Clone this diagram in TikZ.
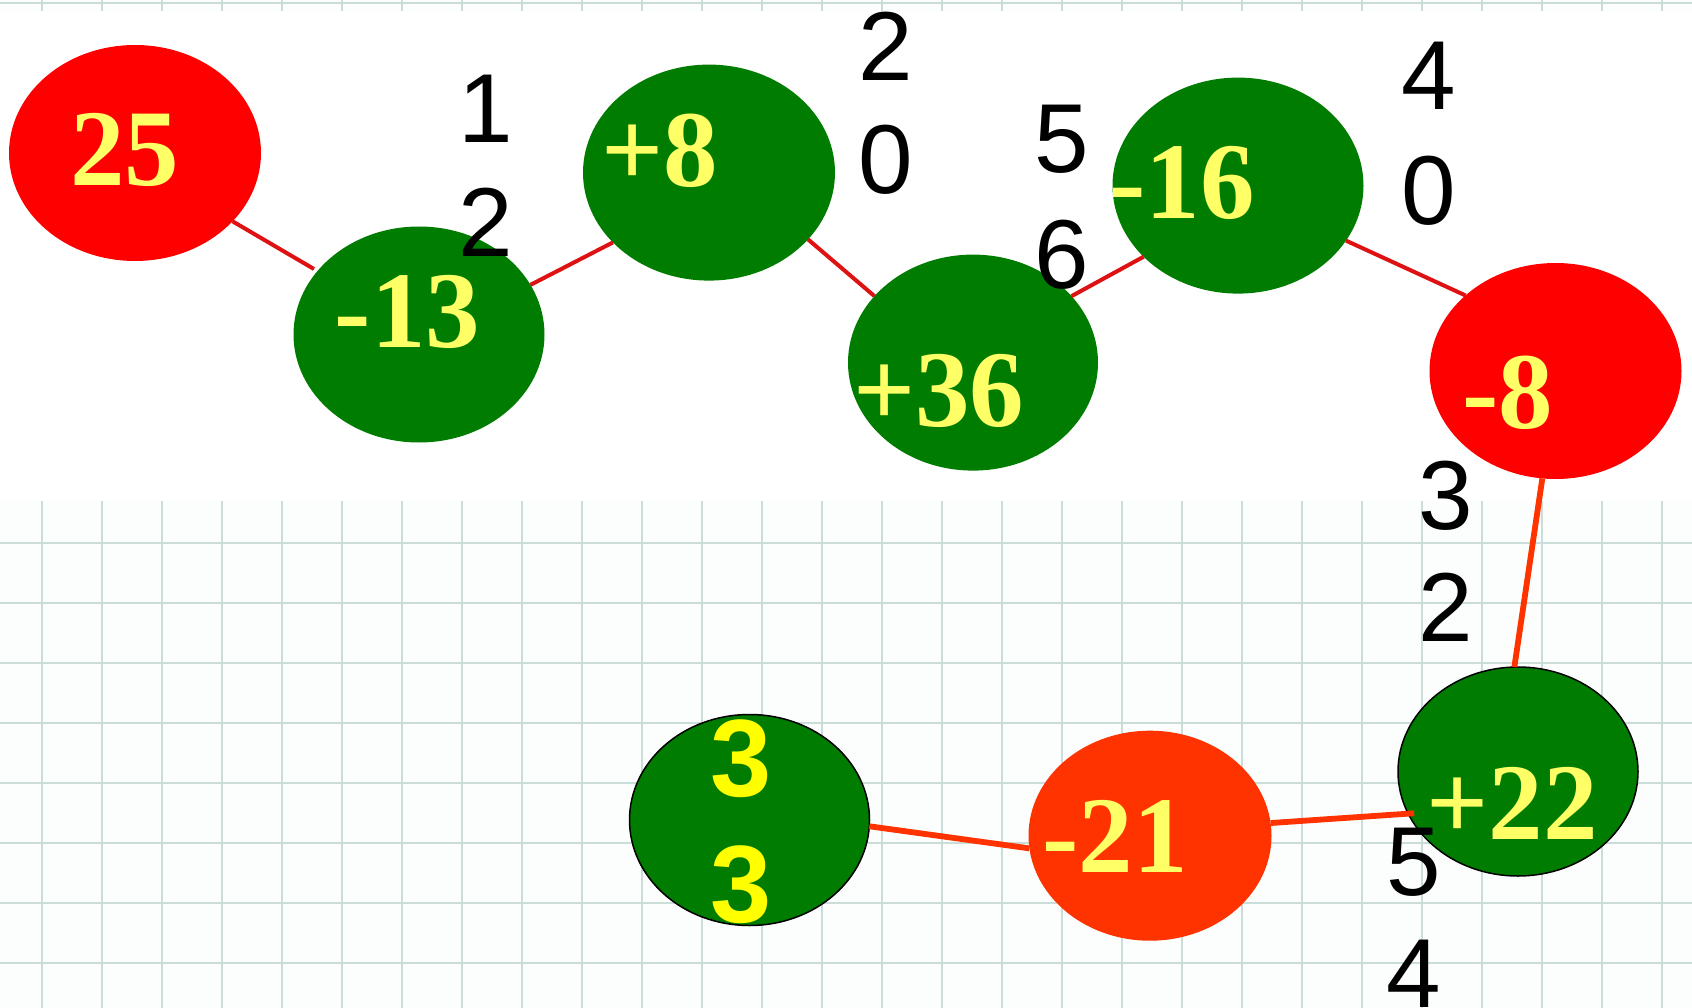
\documentclass[tikz,border=0pt]{standalone}
\usepackage{fontspec}
\setmainfont{Liberation Serif}
\newfontfamily\lsans{Liberation Sans}
\usetikzlibrary{shapes.geometric}
\definecolor{nodegreen}{RGB}{0,125,0}
\definecolor{nodered}{RGB}{255,0,0}
\definecolor{nodeorange}{RGB}{255,51,0}
\definecolor{numyellow}{RGB}{255,255,102}
\definecolor{brightyellow}{RGB}{255,255,0}
\definecolor{linkred}{RGB}{222,18,18}
\definecolor{linkorange}{RGB}{255,51,0}
\definecolor{gridc}{RGB}{203,221,216}
\definecolor{paper}{RGB}{252,254,253}
\begin{document}
\begin{tikzpicture}[x=1pt,y=-1pt,
  blob/.style={ellipse, inner sep=0pt, outer sep=0pt},
  numtxt/.style={font=\fontsize{109}{109}\selectfont\bfseries, text=numyellow, inner sep=0pt, anchor=base},
  lbl/.style={font=\lsans\fontsize{98}{98}\selectfont, text=black, inner sep=0pt, anchor=base},
  bigthree/.style={font=\lsans\bfseries\fontsize{110}{110}\selectfont, text=brightyellow, inner sep=0pt, anchor=base},
  upline/.style={draw=linkred, line width=4pt},
  lowline/.style={draw=linkorange, line width=5.8pt}]
\useasboundingbox (0,0) rectangle (1692,1008);
% paper and grid
\fill[paper] (0,0) rectangle (1692,1008);
\foreach \gx in {0,...,27} \draw[gridc, line width=1.6pt] ({42+60*\gx},0) -- ({42+60*\gx},1008);
\foreach \gy in {0,...,16} \draw[gridc, line width=1.6pt] (0,{3+60*\gy}) -- (1692,{3+60*\gy});
\fill[white] (0,11) rectangle (1692,501);
% nodes
\node[blob, fill=nodered, minimum width=252pt, minimum height=216pt] (n25) at (135,153) {};
\node[blob, fill=nodegreen, minimum width=251pt, minimum height=216pt] (n13) at (419,334.5) {};
\node[blob, fill=nodegreen, minimum width=252pt, minimum height=216pt] (n8p) at (709,172.6) {};
\node[blob, fill=nodegreen, minimum width=250pt, minimum height=216pt] (n36) at (973,362.6) {};
\node[blob, fill=nodegreen, minimum width=251pt, minimum height=216pt] (n16) at (1238,185.6) {};
\node[blob, fill=nodered, minimum width=252pt, minimum height=216pt] (n8m) at (1555.5,371) {};
\node[blob, fill=nodegreen, draw=black, line width=1.5pt, minimum width=240pt, minimum height=209pt] (n22) at (1518,771.5) {};
\node[blob, fill=nodeorange, minimum width=243pt, minimum height=210pt] (n21) at (1150,835.7) {};
\node[blob, fill=nodegreen, draw=black, line width=1.5pt, minimum width=240pt, minimum height=211pt] (n33) at (749.5,820) {};
% connectors
\draw[upline, shorten >=4pt] (n25.-35.1) -- (n13.148.5);
\draw[upline] (n13.24.9) -- (n8p.216.3);
\draw[upline] (n8p.-34.2) -- (n36.146.7);
\draw[upline] (n36.34) -- (n16.217.3);
\draw[upline] (n16.-27.4) -- (n8m.140.5);
\draw[lowline] (n8m.263.4) -- (n22.92);
\draw[lowline] (n33.-3) -- (n21.186);
\draw[lowline, shorten >=-6pt] (n21.6) -- (n22.201);
% node numbers
\node[numtxt] (t25) at (124.6,185.6) {25};
\node[numtxt] (t13) at (407.4,347.5) {-13};
\node[numtxt] (t8p) at (660,186.7) {+8};
\node[numtxt] (t36) at (938.8,426) {+36};
\node[numtxt] (t16) at (1182,219) {-16};
\node[numtxt] (t8m) at (1507.5,428.4) {-8};
\node[numtxt] (t22) at (1512.4,839.5) {+22};
\node[numtxt] (t21) at (1115,872) {-21};
\node[bigthree] (t33a) at (741,796.4) {3};
\node[bigthree] (t33b) at (741,922.6) {3};
% black labels
\node[lbl] (la1) at (486,142.4) {1};
\node[lbl] (la2) at (486,256.8) {2};
\node[lbl] (lb1) at (886,81) {2};
\node[lbl] (lb2) at (886,194) {0};
\node[lbl] (lc1) at (1062,172.7) {5};
\node[lbl] (lc2) at (1062,289) {6};
\node[lbl] (ld1) at (1429,110) {4};
\node[lbl] (ld2) at (1429,224.5) {0};
\node[lbl] (le1) at (1446,529) {3};
\node[lbl] (le2) at (1446,641) {2};
\node[lbl] (lf1) at (1413.6,895.6) {5};
\node[lbl] (lf2) at (1413.6,1007) {4};
\end{tikzpicture}
\end{document}
